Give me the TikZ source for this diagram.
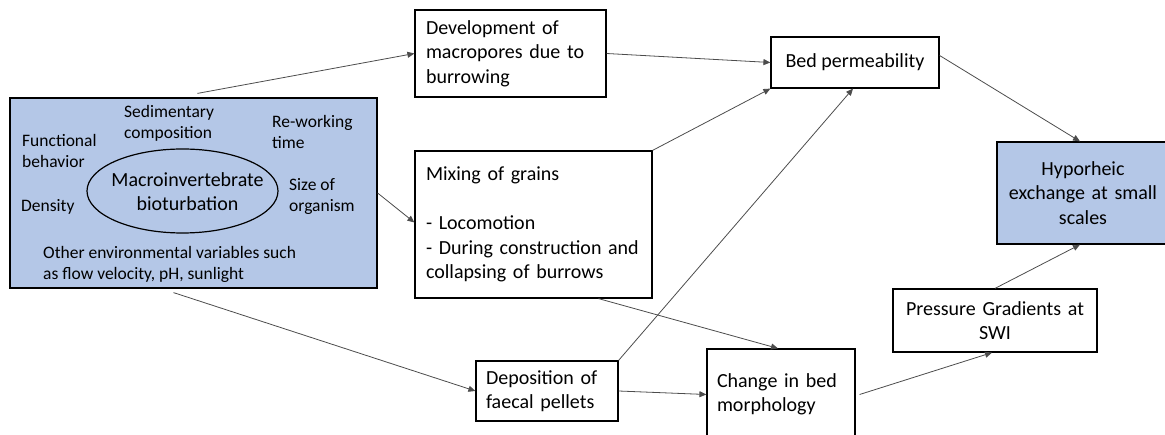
\documentclass[tikz,border=0pt]{standalone}
\usepackage{fontspec}
\setmainfont{Carlito}
\usetikzlibrary{arrows.meta,shapes.geometric}
\definecolor{bioblue}{HTML}{B4C7E7}

\begin{document}
\begin{tikzpicture}[x=1pt, y=-1pt,
    box/.style={draw=black, line width=1.2pt, rectangle, inner ysep=0pt, font=\fontsize{20}{24.5}\selectfont},
    factor/.style={anchor=west, inner sep=0pt, align=left, font=\fontsize{17.5}{21}\selectfont},
    link/.style={draw=black!70, line width=0.8pt, -{Triangle[length=7pt,width=6pt]}}]
    % FULL (clips the cut boxes at the edges)
    \clip (0,0) rectangle (1165,435);

    % BIOTURBATION BOX
    \node[box, fill=bioblue, minimum width=367pt, minimum height=190pt] (bio) at (193.5,193) {};
    \node[draw, line width=1.2pt, ellipse, minimum width=191pt, minimum height=84pt, inner sep=0pt,
          label={[xshift=5pt, yshift=-1pt, align=center, font=\fontsize{20}{24}\selectfont]center:{Macroinvertebrate\\bioturbation}}] (bioturb) at (182.5,191) {};

    % FACTORS
    \node[factor] (sed) at (124,123.5) {Sedimentary\\composition};
    \node[factor] (rework) at (272,132) {Re-working\\time};
    \node[factor] (func) at (22,150.5) {Functional\\behavior};
    \node[factor] (dens) at (21,207) {Density};
    \node[factor] (size) at (289,196.5) {Size of\\organism};
    \node[factor] (envvar) at (43,264.5) {Other environmental variables such\\as flow velocity, pH, sunlight};

    % PROCESSES
    \node[box, text width=169pt, inner xsep=11pt, minimum height=87pt, align=left] (dev) at (510.5,53.5) {Development of\\macropores due to\\burrowing};
    \node[box, text width=215pt, inner xsep=11pt, minimum height=147pt, align=left] (mix) at (533.5,224.5) {Mixing of grains\\[24.5pt]- Locomotion\\- During construction and\\collapsing of burrows};
    \node[box, text width=122pt, inner xsep=10pt, minimum height=60pt, align=left] (dep) at (547,391) {Deposition of\\faecal pellets};

    % EFFECTS
    \node[box, minimum width=168pt, minimum height=51pt] (bed) at (855,62.5) {Bed permeability};
    \node[box, text width=128pt, inner xsep=10pt, minimum height=91pt, align=left] (chg) at (781,394.5) {Change in bed\\morphology};
    \node[box, text width=182pt, inner xsep=11pt, minimum height=63pt, align=center] (prs) at (995,320.5) {Pressure Gradients at\\SWI};
    \node[box, fill=bioblue, text width=150pt, inner xsep=11pt, minimum height=102pt, align=center] (hyp) at (1083,193) {Hyporheic\\exchange at small\\scales};

    % CONNECTORS
    \draw[link] ([xshift=4pt,yshift=4pt]bio.north) -- (dev.west);
    \draw[link] (bio.east) -- ([yshift=2pt]mix.west);
    \draw[link] ([xshift=-20pt,yshift=-4pt]bio.south) -- (dep.west);
    \draw[link] (dev.east) -- (bed.west);
    \draw[link] (mix.north east) -- (bed.south west);
    \draw[link] (dep.north east) -- ([xshift=-2pt]bed.south);
    \draw[link] ([xshift=65pt]mix.south) -- ([xshift=-3pt]chg.north);
    \draw[link] (dep.east) -- (chg.west);
    \draw[link] ([xshift=4pt]chg.east) -- ([xshift=-3pt]prs.south);
    \draw[link] ([yshift=7pt]bed.east) -- ([xshift=-3pt]hyp.north);
    \draw[link] (prs.north) -- ([xshift=-3pt]hyp.south);
\end{tikzpicture}
\end{document}
